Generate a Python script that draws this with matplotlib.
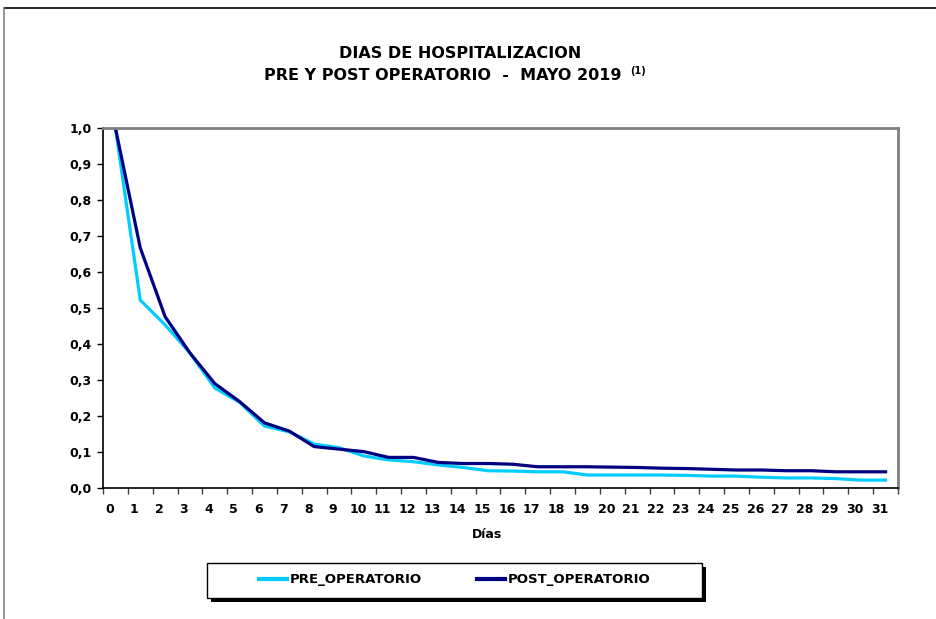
import matplotlib
matplotlib.use("Agg")
import matplotlib.pyplot as plt
import matplotlib.transforms as mtransforms
from matplotlib.lines import Line2D
from matplotlib.patches import Rectangle
from matplotlib.ticker import FixedLocator, FuncFormatter

# Days since admission and fraction of patients still hospitalised
dias = list(range(32))
pre_operatorio = [1.0, 0.522, 0.453, 0.375, 0.278, 0.238, 0.172, 0.156, 0.122, 0.112,
                  0.089, 0.078, 0.073, 0.064, 0.057, 0.048, 0.047, 0.045, 0.045, 0.036,
                  0.036, 0.036, 0.036, 0.035, 0.033, 0.033, 0.030, 0.028, 0.028, 0.026,
                  0.022, 0.022]
post_operatorio = [1.0, 0.667, 0.476, 0.375, 0.290, 0.240, 0.181, 0.158, 0.115, 0.108,
                   0.101, 0.085, 0.085, 0.071, 0.068, 0.068, 0.066, 0.059, 0.059, 0.059,
                   0.058, 0.057, 0.055, 0.054, 0.052, 0.050, 0.050, 0.048, 0.048, 0.045,
                   0.045, 0.045]
y_ticks = [0.0, 0.1, 0.2, 0.3, 0.4, 0.5, 0.6, 0.7, 0.8, 0.9, 1.0]

color_pre = "#00CCFF"
color_post = "#000080"

W, H = 936, 619
DPI = 100
fig = plt.figure(figsize=(W / DPI, H / DPI), dpi=DPI)
fig.patch.set_facecolor("white")

def fx(px):
    return px / W

def fy(py):
    return 1 - py / H

# outer chart frame
fig.add_artist(Line2D([fx(4), 1.0], [fy(8), fy(8)], color="black", lw=1.2, transform=fig.transFigure))
fig.add_artist(Line2D([fx(4), fx(4)], [fy(8), 0.0], color="#808080", lw=1.2, transform=fig.transFigure))

left, right, top, bottom = 103, 898, 128, 488
ax = fig.add_axes([fx(left), fy(bottom), fx(right - left), fy(top) - fy(bottom)])

ax.plot(dias, pre_operatorio, color=color_pre, lw=2.3, label="PRE_OPERATORIO", solid_joinstyle="miter")
ax.plot(dias, post_operatorio, color=color_post, lw=2.3, label="POST_OPERATORIO", solid_joinstyle="miter")

ax.set_xlim(-0.5, 31.5)
ax.set_ylim(0, 1)

for side in ("left", "bottom"):
    ax.spines[side].set_color("black")
    ax.spines[side].set_linewidth(1.2)
for side in ("top", "right"):
    ax.spines[side].set_color("#808080")
    ax.spines[side].set_linewidth(2.0)

TICK_SIZE = 9

ax.set_yticks(y_ticks)
ax.yaxis.set_major_formatter(FuncFormatter(lambda v, p: f"{v:.1f}".replace(".", ",")))
ax.tick_params(axis="y", length=4, width=1, pad=4, labelsize=TICK_SIZE, colors="black")
for lbl in ax.get_yticklabels():
    lbl.set_fontweight("bold")

ax.set_xticks(dias)
ax.set_xticklabels([str(d) for d in dias], fontweight="bold", fontsize=TICK_SIZE)
ax.xaxis.set_minor_locator(FixedLocator([d + 0.5 for d in [-1] + dias]))
ax.tick_params(axis="x", which="major", length=0, pad=11)
ax.tick_params(axis="x", which="minor", length=4, width=1, color="#404040")
shift = mtransforms.ScaledTranslation(-6 / DPI, 0, fig.dpi_scale_trans)
for lbl in ax.get_xticklabels():
    lbl.set_transform(lbl.get_transform() + shift)

ax.set_xlabel("Días", fontweight="bold", fontsize=TICK_SIZE)
ax.xaxis.set_label_coords((487 - left) / (right - left), (bottom - 528) / (bottom - top))

# title
fig.text(fx(460), fy(53), "DIAS DE HOSPITALIZACION", ha="center", va="center",
         fontsize=11.5, fontweight="bold")
fig.text(fx(622), fy(75), "PRE Y POST OPERATORIO  -  MAYO 2019", ha="right", va="center",
         fontsize=11.5, fontweight="bold")
fig.text(fx(630), fy(71), "(1)", ha="left", va="center", fontsize=7, fontweight="bold")

# legend box with drop shadow
lx0, ly0, lx1, ly1 = 207, 563, 702, 598
fig.add_artist(Rectangle((fx(lx0 + 4), fy(ly1 + 4)), fx(lx1 - lx0), fy(ly0) - fy(ly1),
                         transform=fig.transFigure, facecolor="black", edgecolor="black", lw=0))
fig.add_artist(Rectangle((fx(lx0), fy(ly1)), fx(lx1 - lx0), fy(ly0) - fy(ly1),
                         transform=fig.transFigure, facecolor="white", edgecolor="black", lw=1))
handles, labels = ax.get_legend_handles_labels()
leg = fig.legend(handles, labels, loc="center", bbox_to_anchor=(fx(455), fy(580)), ncol=2,
                 frameon=False, handlelength=2.1, handletextpad=0.22,
                 columnspacing=4.2, prop={"weight": "bold", "size": 9.5})
for h in leg.legend_handles:
    h.set_linewidth(3)

fig.savefig("out.png", dpi=DPI, facecolor="white")
